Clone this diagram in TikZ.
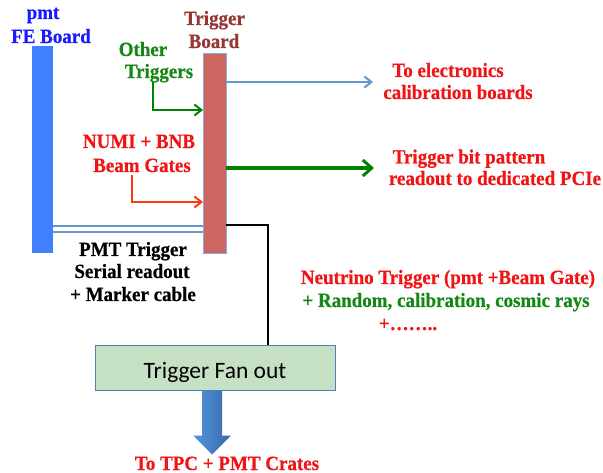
\documentclass[tikz,border=0pt]{standalone}
\usepackage{fontspec}
\setmainfont{Liberation Serif}[BoldFeatures={FakeStretch=0.94,FakeBold=0.5}]
\newfontfamily\calib{Carlito}
\usetikzlibrary{arrows.meta,calc}
\definecolor{feblue}{RGB}{64,128,255}
\definecolor{ttlblue}{RGB}{26,26,255}
\definecolor{tbfill}{RGB}{204,102,96}
\definecolor{tbedge}{RGB}{140,170,210}
\definecolor{tbtext}{RGB}{150,55,53}
\definecolor{gtext}{RGB}{20,135,20}
\definecolor{rtext}{RGB}{240,20,20}
\definecolor{orarrow}{RGB}{255,55,20}
\definecolor{garrow}{RGB}{0,130,0}
\definecolor{lblue}{RGB}{100,150,210}
\definecolor{fanfill}{RGB}{197,224,195}
\definecolor{fanedge}{RGB}{79,129,189}
\definecolor{dtop}{RGB}{82,150,220}
\definecolor{dbot}{RGB}{55,105,170}
\tikzset{
  lbl/.style={font=\bfseries\fontsize{20.2}{22}\selectfont, inner sep=0pt, anchor=base},
  bar/.style={inner sep=0pt, outer sep=0pt, minimum width=#1},
  thinarr/.style={line width=2pt, -{Straight Barb[length=7pt,width=11pt,line width=2pt]}},
}
\begin{document}
\begin{tikzpicture}[x=1pt,y=-1pt]
\useasboundingbox[fill=white] (0,0) rectangle (603,473);

% boards
\node[bar=21pt, minimum height=207pt, fill=feblue] (fe) at (42.5,149.5) {};
\node[bar=23pt, minimum height=200pt, fill=tbfill, draw=tbedge, line width=0.6pt] (tb) at (214.5,153) {};

% fan out box
\node[minimum width=240pt, minimum height=44pt, inner sep=0pt, fill=fanfill, draw=fanedge, line width=1pt] (fan) at (215,368) {};
\node[font=\calib\fontsize{23.5}{26}\selectfont, inner sep=0pt, anchor=base] (fant) at (215,378) {Trigger Fan out};

% titles
\node[lbl, text=ttlblue] (pmt) at (43,19) {pmt};
\node[lbl, text=ttlblue] (feb) at (51,43) {FE Board};
\node[lbl, text=tbtext] (tbt1) at (214.5,25) {Trigger};
\node[lbl, text=tbtext] (tbt2) at (214,48) {Board};

\node[lbl, text=gtext] (ot1) at (143,56) {Other};
\node[lbl, text=gtext] (ot2) at (159,78) {Triggers};
\node[lbl, text=rtext] (nb1) at (139,148) {NUMI + BNB};
\node[lbl, text=rtext] (nb2) at (142,172) {Beam Gates};

\node[lbl, text=rtext] (el1) at (448,77) {To electronics};
\node[lbl, text=rtext] (el2) at (458,99) {calibration boards};
\node[lbl, text=rtext] (bp1) at (469,163.5) {Trigger bit pattern};
\node[lbl, text=rtext] (bp2) at (495,185) {readout to dedicated PCIe};

\node[lbl, text=black] (pm1) at (133,256) {PMT Trigger};
\node[lbl, text=black] (pm2) at (132,278) {Serial readout};
\node[lbl, text=black] (pm3) at (133,301) {+ Marker cable};

\node[lbl, text=rtext] (nu1) at (448,284) {Neutrino Trigger (pmt +Beam Gate)};
\node[lbl, text=gtext] (nu2) at (446,307) {+ Random, calibration, cosmic rays};
\node[lbl, text=rtext] (nu3) at (408,330) {+……..};

\node[lbl, text=rtext] (tpc) at (227,470) {To TPC + PMT Crates};

% connectors
\coordinate (og) at (153,82);
\coordinate (ogy) at (0,110);
\draw[garrow, thinarr] (og) |- (tb.west |- ogy);

\coordinate (nbs) at (132,175);
\coordinate (nby) at (0,202);
\draw[orarrow, thinarr] (nbs) |- (tb.west |- nby);

\coordinate (elx) at (373,82);
\draw[lblue, thinarr] (tb.east |- elx) -- (elx);

\coordinate (bpx) at (374,168);
\draw[garrow, line width=3.5pt, -{Straight Barb[length=9pt,width=16pt,line width=3pt]}] (tb.east |- bpx) -- (bpx);

\coordinate (dly) at (0,229);
\draw[lblue, line width=2pt, double=white, double distance=4pt] (fe.east |- dly) -- (tb.west |- dly);

\coordinate (bky) at (0,225);
\draw[black, line width=2pt] (tb.east |- bky) -| ([xshift=53pt]fan.north);

% down arrow
\shade[left color=dtop, right color=dbot]
  ($(fan.south)+(-13,0)$) -- ++(0,45) -- ++(-9,0) -- ++(19,19) -- ++(19,-19) -- ++(-9,0) -- ++(0,-45) -- cycle;
\end{tikzpicture}
\end{document}
